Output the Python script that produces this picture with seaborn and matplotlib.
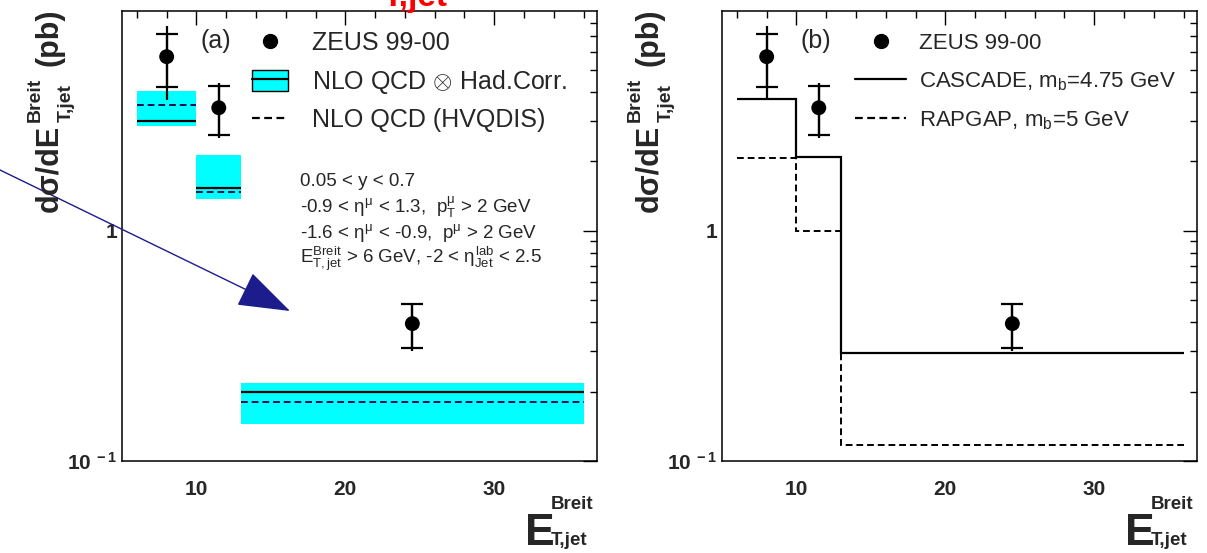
import matplotlib
matplotlib.use("Agg")
import matplotlib.pyplot as plt
import seaborn as sns
from matplotlib.lines import Line2D
from matplotlib.patches import Patch
from matplotlib.ticker import FixedLocator, FixedFormatter, MultipleLocator, NullFormatter

# ---- data: b-quark jet cross section vs E_T^Breit ----
bin_edges = [6, 10, 13, 36]
x_points = [8.0, 11.5, 24.5]
zeus = [5.70, 3.42, 0.395]
stat_err = [1.47, 0.82, 0.085]
tot_up = [2.05, 0.95, 0.090]
tot_dn = [2.02, 0.90, 0.095]

nlo_had = [3.00, 1.53, 0.200]
nlo_band_lo = [2.84, 1.37, 0.145]
nlo_band_hi = [4.04, 2.14, 0.218]
hvqdis = [3.52, 1.48, 0.180]

cascade = [3.74, 2.09, 0.294]
rapgap = [2.07, 1.00, 0.117]

xlim = (5, 36.9)
ylim = (0.1, 9.0)

sns.set_theme(style="white")
plt.rcParams["font.family"] = ["Liberation Sans", "DejaVu Sans"]
plt.rcParams["mathtext.fontset"] = "custom"
plt.rcParams["mathtext.rm"] = "Liberation Sans"
plt.rcParams["mathtext.it"] = "Liberation Sans"
plt.rcParams["mathtext.bf"] = "Liberation Sans:bold"

W, H = 1207, 553
fig = plt.figure(figsize=(W / 100, H / 100), dpi=100)
fig.patch.set_facecolor("white")
renderer = fig.canvas.get_renderer()

ax_a = fig.add_axes([122 / W, 1 - 461 / H, 475 / W, 450 / H])
ax_b = fig.add_axes([722 / W, 1 - 461 / H, 475 / W, 450 / H])

DASH = (0, (3.5, 2.0))
CYAN = "#00ffff"


def style_axes(ax):
    ax.set_yscale("log")
    ax.set_xlim(*xlim)
    ax.set_ylim(*ylim)
    ax.set_facecolor("white")
    for s in ax.spines.values():
        s.set_color("black")
        s.set_linewidth(1.1)
    ax.xaxis.set_major_locator(FixedLocator([10, 20, 30]))
    ax.xaxis.set_minor_locator(MultipleLocator(2))
    ax.yaxis.set_major_locator(FixedLocator([0.1, 1]))
    ax.yaxis.set_major_formatter(FixedFormatter([r"$\mathbf{10^{\ -1}}$", r"$\mathbf{1}$"]))
    ax.yaxis.set_minor_locator(FixedLocator([0.2, 0.3, 0.4, 0.5, 0.6, 0.7, 0.8, 0.9,
                                             2, 3, 4, 5, 6, 7, 8]))
    ax.yaxis.set_minor_formatter(NullFormatter())
    ax.tick_params(which="both", direction="in", top=True, right=True,
                   color="black", width=1.0)
    ax.tick_params(which="major", length=10, labelsize=15)
    ax.tick_params(axis="x", which="major", pad=14)
    ax.tick_params(axis="y", which="major", pad=3)
    ax.tick_params(which="minor", length=5)
    for lab in ax.get_xticklabels() + ax.get_yticklabels():
        lab.set_fontweight("bold")
    ax.set_xlabel("")
    ax.set_ylabel("")


def draw_data(ax):
    ax.errorbar(x_points, zeus, yerr=[tot_dn, tot_up], fmt="none",
                ecolor="black", elinewidth=1.6, capsize=0, zorder=5)
    ax.errorbar(x_points, zeus, yerr=stat_err, fmt="none",
                ecolor="black", elinewidth=1.6, capsize=8, capthick=1.6, zorder=5)
    sns.scatterplot(x=x_points, y=zeus, ax=ax, color="black", s=115,
                    edgecolor="none", zorder=6, legend=False)


def vertical_label(x_base, y_start, pieces, gaps):
    """Rotated title built from groups of (text, size, perpendicular offset)."""
    y = H - y_start
    for group, gap in zip(pieces, gaps):
        longest = 0
        for txt, size, off in group:
            t = fig.text((x_base - off) / W, y / H, txt, fontsize=size,
                         fontweight="bold", rotation=90, rotation_mode="anchor",
                         ha="left", va="baseline")
            ext = t.get_window_extent(renderer)
            longest = max(longest, ext.height)
        y += longest + gap


# ---- panel (a): NLO QCD ----
for i in range(3):
    ax_a.fill_between(bin_edges[i:i + 2], [nlo_band_lo[i]] * 2, [nlo_band_hi[i]] * 2,
                      color=CYAN, lw=0, zorder=1)
ax_a.hlines(nlo_had, bin_edges[:-1], bin_edges[1:], color="black", lw=1.6, zorder=2)
ax_a.hlines(hvqdis, bin_edges[:-1], bin_edges[1:], color="#10104a", lw=1.4,
            linestyles=[DASH], zorder=2)
draw_data(ax_a)
style_axes(ax_a)

h_data = Line2D([], [], ls="none", marker="o", ms=10, color="black")
h_band = (Patch(facecolor=CYAN, edgecolor="black", lw=1.0),
          Line2D([], [], color="black", lw=1.6))
h_dash = Line2D([], [], color="black", lw=1.6, ls=DASH)
ax_a.legend([h_data, h_band, h_dash],
            ["ZEUS 99-00", r"NLO QCD $\otimes$ Had.Corr.", "NLO QCD (HVQDIS)"],
            loc="upper left", bbox_to_anchor=(0.274, 0.955), frameon=False,
            fontsize=18, handlelength=1.45, handleheight=0.9, handletextpad=0.95,
            labelspacing=0.5, borderpad=0, borderaxespad=0)
ax_a.text(0.165, 0.96, "(a)", transform=ax_a.transAxes, fontsize=18,
          ha="left", va="top")

cuts = [r"0.05 < y < 0.7",
        r"-0.9 < $\eta^{\mu}$ < 1.3,  p$^{\mu}_{T}$ > 2 GeV",
        r"-1.6 < $\eta^{\mu}$ < -0.9,  p$^{\mu}$ > 2 GeV",
        r"E$^{Breit}_{T,jet}$ > 6 GeV, -2 < $\eta^{lab}_{Jet}$ < 2.5"]
for k, line in enumerate(cuts):
    ax_a.text(0.375, 0.62 - k * 0.0567, line, transform=ax_a.transAxes,
              fontsize=13.5, ha="left", va="center")

# ---- panel (b): MC models ----
ax_b.stairs(cascade, bin_edges, baseline=None, color="black", lw=1.6, zorder=2)
ax_b.stairs(rapgap, bin_edges, baseline=None, color="black", lw=1.4,
            linestyle=DASH, zorder=2)
draw_data(ax_b)
style_axes(ax_b)

h_casc = Line2D([], [], color="black", lw=1.6)
h_rap = Line2D([], [], color="black", lw=1.6, ls=DASH)
ax_b.legend([h_data, h_casc, h_rap],
            ["ZEUS 99-00", r"CASCADE, m$_{b}$=4.75 GeV", r"RAPGAP, m$_{b}$=5 GeV"],
            loc="upper left", bbox_to_anchor=(0.28, 0.952), frameon=False,
            fontsize=16, handlelength=2.3, handleheight=0.9, handletextpad=0.6,
            labelspacing=0.72, borderpad=0, borderaxespad=0)
ax_b.text(0.165, 0.96, "(b)", transform=ax_b.transAxes, fontsize=18,
          ha="left", va="top")

# ---- axis titles, ROOT-like placement ----
for dx in (0, 600):
    vertical_label(57 + dx, 212,
                   [[("d\u03c3/dE", 22, 0)],
                    [("Breit", 14, 17), ("T,jet", 14, -14)],
                    [("(pb)", 22, 0)]],
                   gaps=[3, 12, 0])
for x0 in (525, 1125):
    fig.text(x0 / W, 1 - 545 / H, "E", fontsize=32, fontweight="bold",
             ha="left", va="baseline")
    fig.text((x0 + 26) / W, 1 - 509 / H, "Breit", fontsize=13.5, fontweight="bold",
             ha="left", va="baseline")
    fig.text((x0 + 26) / W, 1 - 545 / H, "T,jet", fontsize=13.5, fontweight="bold",
             ha="left", va="baseline")

# red heading running off the top edge
fig.text(383 / W, 1 - 6 / H, "T,jet", color="red", fontsize=24, fontweight="bold",
         ha="left", va="baseline")

# pointer arrow
ax_a.annotate("", xy=(290, H - 311), xycoords="figure pixels",
              xytext=(0, H - 170), textcoords="figure pixels",
              arrowprops=dict(arrowstyle="-|>,head_length=1.3,head_width=0.45",
                              mutation_scale=26, color="#1c1c8c", lw=1.0,
                              shrinkA=0, shrinkB=0))

fig.savefig("out.png", dpi=100, facecolor="white")
